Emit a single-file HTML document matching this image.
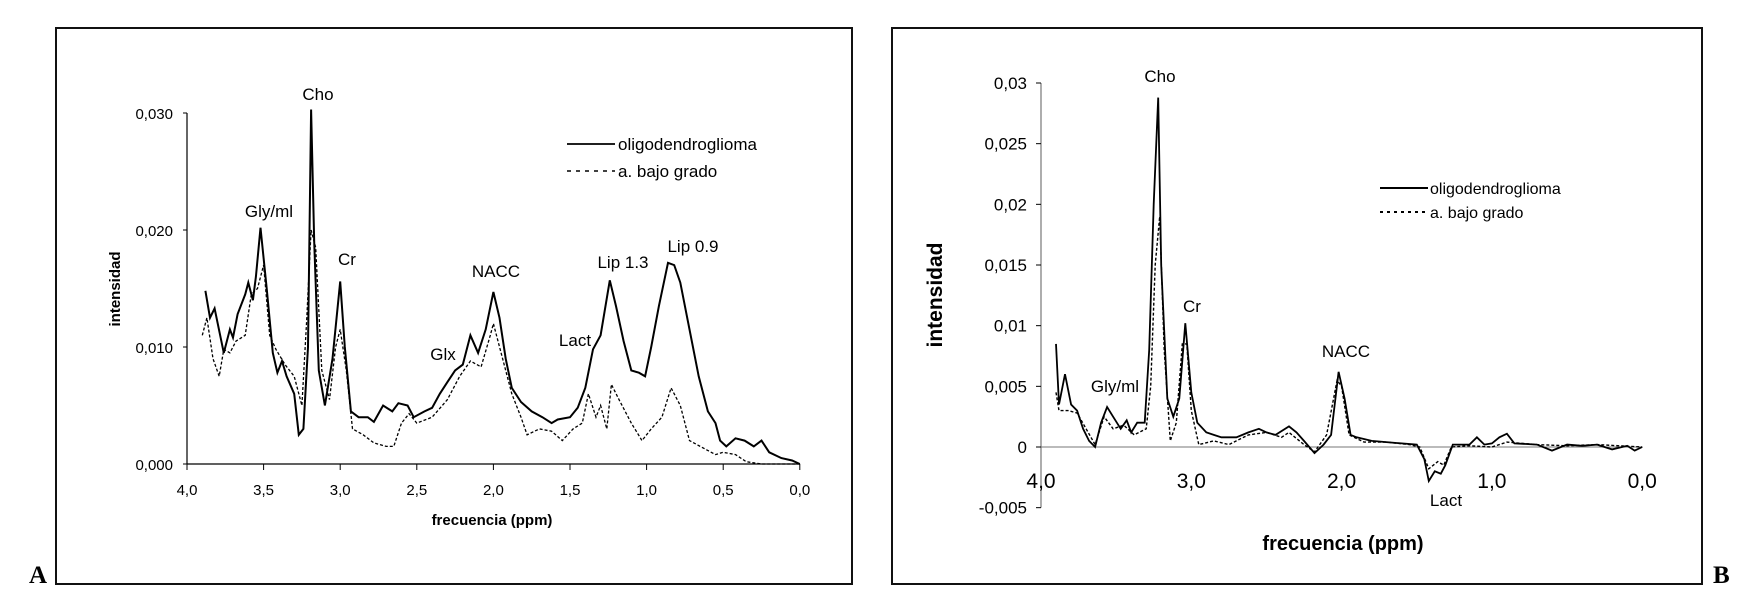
<!DOCTYPE html>
<html><head><meta charset="utf-8"><style>
body{margin:0;background:#fff;}
svg{display:block;font-family:"Liberation Sans",Arial,sans-serif;}
</style></head><body>
<svg id="s" width="1744" height="597" viewBox="0 0 1744 597">
<rect x="0" y="0" width="1744" height="597" fill="#fff"/>
<rect x="56" y="28" width="796" height="556" fill="none" stroke="#111" stroke-width="2"/>
<rect x="892" y="28" width="810" height="556" fill="none" stroke="#111" stroke-width="2"/>
<text x="29" y="583" font-family="Liberation Serif,serif" font-weight="bold" font-size="25">A</text>
<text x="1713" y="583" font-family="Liberation Serif,serif" font-weight="bold" font-size="25">B</text>
<g id="ga"></g><g id="gb"></g>
</svg>
<script>
const aTicksY=[0,0.01,0.02,0.03];
const aTickLabelsY=["0,000","0,010","0,020","0,030"];
const aTicksX=[4,3.5,3,2.5,2,1.5,1,0.5,0];
const aTickLabelsX=["4,0","3,5","3,0","2,5","2,0","1,5","1,0","0,5","0,0"];
const aSolidPpm=[3.88,3.85,3.82,3.76,3.72,3.70,3.67,3.62,3.60,3.57,3.55,3.52,3.48,3.44,3.41,3.38,3.35,3.30,3.27,3.24,3.21,3.19,3.17,3.14,3.10,3.05,3.00,2.97,2.93,2.88,2.82,2.78,2.72,2.66,2.62,2.56,2.52,2.45,2.40,2.35,2.30,2.25,2.20,2.15,2.10,2.05,2.00,1.96,1.92,1.88,1.82,1.75,1.68,1.62,1.58,1.50,1.45,1.40,1.35,1.30,1.24,1.20,1.15,1.10,1.05,1.01,0.97,0.92,0.86,0.82,0.78,0.72,0.66,0.60,0.55,0.52,0.48,0.42,0.36,0.30,0.25,0.20,0.12,0.05,0.00];
const aSolidVal=[0.0148,0.0125,0.0133,0.0095,0.0115,0.0108,0.0128,0.0145,0.0155,0.014,0.016,0.0202,0.015,0.0095,0.0078,0.0088,0.0075,0.006,0.0025,0.003,0.01,0.0303,0.019,0.008,0.005,0.009,0.0156,0.01,0.0045,0.004,0.004,0.0036,0.005,0.0045,0.0052,0.005,0.004,0.0045,0.0048,0.006,0.007,0.008,0.0085,0.011,0.0095,0.0115,0.0147,0.0125,0.009,0.0065,0.0053,0.0045,0.004,0.0035,0.0038,0.004,0.0048,0.0065,0.0098,0.011,0.0157,0.0135,0.0105,0.008,0.0078,0.0075,0.01,0.0135,0.0172,0.017,0.0155,0.0115,0.0075,0.0045,0.0035,0.002,0.0015,0.0022,0.002,0.0015,0.002,0.001,0.0005,0.0003,0];
const aDashPpm=[3.90,3.87,3.83,3.79,3.76,3.72,3.68,3.62,3.58,3.54,3.50,3.46,3.42,3.36,3.30,3.25,3.22,3.19,3.16,3.12,3.07,3.03,3.00,2.96,2.92,2.85,2.78,2.70,2.65,2.60,2.55,2.50,2.40,2.30,2.22,2.15,2.08,2.02,2.00,1.95,1.88,1.82,1.78,1.70,1.62,1.55,1.48,1.42,1.38,1.33,1.30,1.26,1.23,1.18,1.10,1.03,0.97,0.90,0.84,0.78,0.72,0.65,0.55,0.50,0.42,0.35,0.25,0.15,0];
const aDashVal=[0.011,0.0125,0.009,0.0075,0.0098,0.0095,0.0105,0.011,0.0145,0.015,0.017,0.011,0.0098,0.0085,0.0075,0.005,0.012,0.02,0.0185,0.008,0.0055,0.01,0.0115,0.008,0.003,0.0025,0.0018,0.0015,0.0015,0.0035,0.0043,0.0035,0.004,0.0055,0.0075,0.0088,0.0083,0.011,0.012,0.0095,0.006,0.004,0.0025,0.003,0.0028,0.002,0.003,0.0035,0.006,0.004,0.005,0.003,0.0068,0.0055,0.0035,0.002,0.003,0.004,0.0065,0.005,0.002,0.0015,0.0008,0.001,0.0008,0.0002,0,0,0];
const bTicksY=[-0.005,0,0.005,0.01,0.015,0.02,0.025,0.03];
const bTickLabelsY=["-0,005","0","0,005","0,01","0,015","0,02","0,025","0,03"];
const bTicksX=[4,3,2,1,0];
const bTickLabelsX=["4,0","3,0","2,0","1,0","0,0"];
const bSolidPpm=[3.90,3.88,3.84,3.80,3.76,3.72,3.68,3.64,3.60,3.56,3.52,3.47,3.43,3.40,3.36,3.31,3.28,3.25,3.22,3.20,3.16,3.12,3.08,3.04,3.00,2.96,2.90,2.85,2.80,2.70,2.62,2.55,2.50,2.44,2.35,2.30,2.25,2.18,2.12,2.07,2.02,1.98,1.94,1.90,1.80,1.60,1.50,1.45,1.42,1.38,1.34,1.31,1.26,1.15,1.10,1.05,1.00,0.95,0.90,0.85,0.70,0.60,0.50,0.40,0.30,0.20,0.10,0.05,0];
const bSolidVal=[0.0085,0.0035,0.006,0.0035,0.003,0.0015,0.0005,0,0.002,0.0033,0.0025,0.0015,0.0022,0.0012,0.002,0.002,0.008,0.02,0.0288,0.015,0.004,0.0025,0.004,0.0102,0.0045,0.002,0.0012,0.001,0.0008,0.0008,0.0012,0.0015,0.0012,0.001,0.0017,0.0012,0.0005,-0.0005,0.0002,0.001,0.0062,0.004,0.001,0.0008,0.0005,0.0003,0.0002,-0.001,-0.0028,-0.002,-0.0022,-0.0015,0.0002,0.0002,0.0008,0.0002,0.0003,0.0008,0.0011,0.0003,0.0002,-0.0003,0.0002,0.0001,0.0002,-0.0002,0.0001,-0.0003,0];
const bDashPpm=[3.90,3.88,3.82,3.76,3.70,3.64,3.58,3.52,3.45,3.38,3.30,3.27,3.24,3.21,3.18,3.14,3.10,3.06,3.03,3.00,2.95,2.85,2.75,2.62,2.50,2.40,2.35,2.25,2.18,2.10,2.03,2.00,1.95,1.85,1.70,1.55,1.48,1.42,1.36,1.32,1.27,1.15,1.00,0.90,0.70,0.50,0.30,0];
const bDashVal=[0.0045,0.003,0.003,0.0028,0.0015,0.0002,0.0025,0.0015,0.0018,0.001,0.0015,0.005,0.015,0.019,0.008,0.0005,0.002,0.0085,0.0085,0.003,0.0002,0.0005,0.0002,0.001,0.0012,0.0008,0.0012,0.0002,-0.0004,0.001,0.0055,0.005,0.001,0.0004,0.0004,0.0002,0,-0.0018,-0.0012,-0.0015,0,0.0001,0,0.0004,0.0002,0.0001,0.0002,0];
const NS="http://www.w3.org/2000/svg";
function mk(p,tag,at,txt){const e=document.createElementNS(NS,tag);for(const k in at)e.setAttribute(k,at[k]);if(txt!==undefined)e.textContent=txt;p.appendChild(e);return e;}
function pathD(px,vals,X,Y){return px.map((p,i)=>(i?"L":"M")+X(p).toFixed(1)+","+Y(vals[i]).toFixed(1)).join("");}
// Panel A
(function(){
const g=document.getElementById('ga');
const X=p=>187+(4-p)*153.2, Y=v=>464-v*(351/0.03);
let e=mk(g,'line',{x1:187,y1:Y(0.03),x2:187,y2:464,stroke:'#000','stroke-width':1.2});

e=mk(g,'line',{x1:187,y1:464,x2:X(0),y2:464,stroke:'#000','stroke-width':1.2});

aTicksY.forEach((t,i)=>{mk(g,'line',{x1:183,y1:Y(t),x2:187,y2:Y(t),stroke:'#000'});
e=mk(g,'text',{x:173,y:Y(t)+6,'text-anchor':'end','font-size':15},aTickLabelsY[i]);
});
aTicksX.forEach((t,i)=>{mk(g,'line',{x1:X(t),y1:464,x2:X(t),y2:470,stroke:'#000'});
e=mk(g,'text',{x:X(t),y:495,'text-anchor':'middle','font-size':15},aTickLabelsX[i]);
});
e=mk(g,'text',{x:492,y:525,'text-anchor':'middle','font-size':15,'font-weight':'bold'},'frecuencia (ppm)');

e=mk(g,'text',{x:0,y:0,'text-anchor':'middle','font-size':15,'font-weight':'bold',transform:'translate(120,289) rotate(-90)'},'intensidad');

e=mk(g,'path',{d:pathD(aDashPpm,aDashVal,X,Y),fill:'none',stroke:'#000','stroke-width':1.3,'stroke-dasharray':'3,2'});

e=mk(g,'path',{d:pathD(aSolidPpm,aSolidVal,X,Y),fill:'none',stroke:'#000','stroke-width':2});

mk(g,'line',{x1:567,y1:144,x2:615,y2:144,stroke:'#000','stroke-width':1.8});
e=mk(g,'text',{x:618,y:150,'font-size':17},'oligodendroglioma');

mk(g,'line',{x1:567,y1:171,x2:615,y2:171,stroke:'#000','stroke-width':1.5,'stroke-dasharray':'4,5'});
e=mk(g,'text',{x:618,y:177,'font-size':17},'a. bajo grado');

[["Cho",318,100],["Gly/ml",269,217],["Cr",347,265],["NACC",496,277],["Glx",443,360],["Lact",575,346],["Lip 1.3",623,268],["Lip 0.9",693,252]].forEach(a=>{
e=mk(g,'text',{x:a[1],y:a[2],'text-anchor':'middle','font-size':17},a[0]);
});
})();
// Panel B
(function(){
const g=document.getElementById('gb');
const X=p=>1041+(4-p)*150.3, Y=v=>447-v*(364/0.03);
let e=mk(g,'line',{x1:1041,y1:Y(0.03),x2:1041,y2:Y(-0.005),stroke:'#777','stroke-width':1.2});

e=mk(g,'line',{x1:1041,y1:Y(0),x2:X(0),y2:Y(0),stroke:'#777','stroke-width':1});

bTicksY.forEach((t,i)=>{mk(g,'line',{x1:1036,y1:Y(t),x2:1041,y2:Y(t),stroke:'#000'});
e=mk(g,'text',{x:1027,y:Y(t)+6,'text-anchor':'end','font-size':17},bTickLabelsY[i]);
});
bTicksX.forEach((t,i)=>{
e=mk(g,'text',{x:X(t),y:488,'text-anchor':'middle','font-size':21},bTickLabelsX[i]);
});
e=mk(g,'text',{x:1343,y:550,'text-anchor':'middle','font-size':20,'font-weight':'bold'},'frecuencia (ppm)');

e=mk(g,'text',{x:0,y:0,'text-anchor':'middle','font-size':21,'font-weight':'bold',transform:'translate(942,295) rotate(-90)'},'intensidad');

e=mk(g,'path',{d:pathD(bDashPpm,bDashVal,X,Y),fill:'none',stroke:'#000','stroke-width':1.4,'stroke-dasharray':'3,2'});

e=mk(g,'path',{d:pathD(bSolidPpm,bSolidVal,X,Y),fill:'none',stroke:'#000','stroke-width':1.8});

mk(g,'line',{x1:1380,y1:188,x2:1428,y2:188,stroke:'#000','stroke-width':2});
e=mk(g,'text',{x:1430,y:194,'font-size':16},'oligodendroglioma');

mk(g,'line',{x1:1380,y1:212,x2:1428,y2:212,stroke:'#000','stroke-width':2,'stroke-dasharray':'3,4'});
e=mk(g,'text',{x:1430,y:218,'font-size':16},'a. bajo grado');

[["Cho",1160,82],["Cr",1192,312],["Gly/ml",1115,392],["NACC",1346,357],["Lact",1446,506]].forEach(a=>{
e=mk(g,'text',{x:a[1],y:a[2],'text-anchor':'middle','font-size':17},a[0]);
});
})();
</script>
</body></html>
